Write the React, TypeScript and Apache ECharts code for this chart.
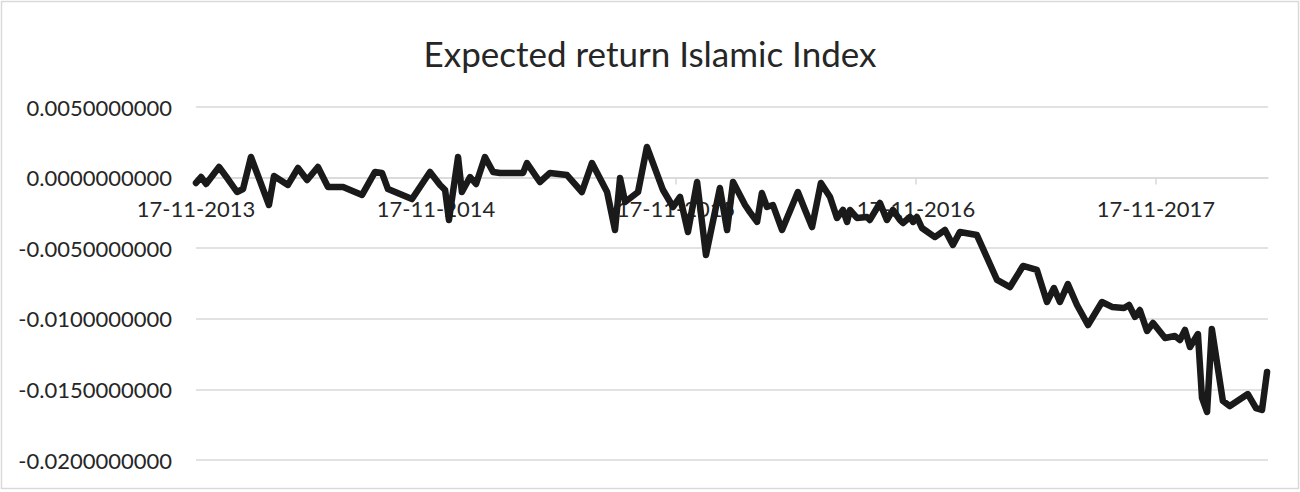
import React, { useEffect, useRef } from "react";
import * as echarts from "echarts";

const TITLE = "Expected return Islamic Index";

// x position in years since 17-11-2013
const yearsSinceStart: number[] = [
  0.0, 0.021, 0.042, 0.096, 0.133, 0.171, 0.196, 0.229, 0.304, 0.325,
  0.383, 0.425, 0.463, 0.508, 0.55, 0.613, 0.692, 0.746, 0.775, 0.8,
  0.9, 0.975, 1.017, 1.038, 1.054, 1.092, 1.108, 1.142, 1.167, 1.204,
  1.238, 1.267, 1.363, 1.379, 1.433, 1.475, 1.546, 1.608, 1.65, 1.713,
  1.746, 1.767, 1.788, 1.842, 1.879, 1.946, 1.988, 2.017, 2.05, 2.088,
  2.125, 2.183, 2.213, 2.238, 2.288, 2.308, 2.338, 2.358, 2.379, 2.404,
  2.442, 2.508, 2.538, 2.567, 2.604, 2.642, 2.671, 2.696, 2.713, 2.725,
  2.754, 2.796, 2.808, 2.85, 2.879, 2.904, 2.933, 2.946, 2.975, 2.988,
  3.004, 3.025, 3.079, 3.121, 3.154, 3.183, 3.254, 3.338, 3.392, 3.446,
  3.504, 3.546, 3.575, 3.6, 3.633, 3.671, 3.717, 3.775, 3.817, 3.867,
  3.888, 3.913, 3.933, 3.963, 3.988, 4.038, 4.079, 4.1, 4.121, 4.142,
  4.175, 4.192, 4.213, 4.233, 4.279, 4.308, 4.383, 4.417, 4.442, 4.463,
];

const expectedReturn: number[] = [
  -0.00038, 0.00004, -0.00045, 0.00075, -0.0001, -0.00102, -0.00081, 0.00146, -0.00194, 0.00011,
  -0.00052, 0.00068, -0.00017, 0.00075, -0.00067, -0.00067, -0.00123, 0.0004, 0.00033, -0.00081,
  -0.00152, 0.0004, -0.00052, -0.00088, -0.003, 0.00146, -0.00102, 0.00004, -0.00045, 0.00146,
  0.0004, 0.00033, 0.00033, 0.00103, -0.00031, 0.00033, 0.00018, -0.00102, 0.00103, -0.00102,
  -0.00371, -0.00003, -0.00173, -0.00102, 0.00217, -0.00088, -0.00208, -0.00137, -0.00385, -0.00031,
  -0.00548, -0.00074, -0.00371, -0.00031, -0.00194, -0.00244, -0.00314, -0.00109, -0.00208, -0.00194,
  -0.00371, -0.00102, -0.00229, -0.0035, -0.00038, -0.00137, -0.00286, -0.00229, -0.00314, -0.00229,
  -0.00286, -0.00279, -0.003, -0.0018, -0.003, -0.00229, -0.003, -0.00322, -0.00279, -0.00314,
  -0.00279, -0.00357, -0.00421, -0.00371, -0.00477, -0.00385, -0.00407, -0.00725, -0.00775, -0.00626,
  -0.00654, -0.00881, -0.00782, -0.00881, -0.00754, -0.00902, -0.01044, -0.00881, -0.00916, -0.00924,
  -0.00902, -0.00987, -0.00938, -0.01086, -0.0103, -0.01136, -0.01122, -0.0115, -0.01079, -0.012,
  -0.01108, -0.01561, -0.0166, -0.01072, -0.01582, -0.01618, -0.01533, -0.01632, -0.01646, -0.01377,
];

const xTickValues: number[] = [0, 1, 2, 3, 4];
const xTickLabels: string[] = ["17-11-2013", "17-11-2014", "17-11-2015", "17-11-2016", "17-11-2017"];

const Y_MIN = -0.02;
const Y_MAX = 0.005;

const FONT = "Lato, 'Open Sans', sans-serif";
const TEXT = "#262626";
const GRID = "#d9d9d9";

const GRID_TOP = 107;
const GRID_BOTTOM = 32;
const HEIGHT = 492;

export default function App() {
  const ref = useRef<HTMLDivElement>(null);

  useEffect(() => {
    document.body.style.margin = "0";
    if (!ref.current) return;
    const chart = echarts.init(ref.current, undefined, { renderer: "svg" });
    const data = yearsSinceStart.map((x, i) => [x, expectedReturn[i]]);
    // place the category axis where y = 0 (as Excel does)
    const plotH = HEIGHT - GRID_TOP - GRID_BOTTOM;
    const zeroFromBottom = ((0 - Y_MIN) / (Y_MAX - Y_MIN)) * plotH;
    chart.setOption({
      animation: false,
      backgroundColor: "#ffffff",
      textStyle: { fontFamily: FONT },
      title: {
        text: TITLE,
        left: "center",
        top: 30,
        textStyle: { fontFamily: FONT, fontSize: 35, fontWeight: "normal", color: TEXT },
      },
      graphic: [
        {
          type: "rect",
          shape: { x: 1.5, y: 1.5, width: 1297, height: 487 },
          style: { fill: "none", stroke: GRID, lineWidth: 1.5 },
          silent: true,
        },
      ],
      grid: { left: 196, right: 32, top: GRID_TOP, bottom: GRID_BOTTOM, containLabel: false },
      xAxis: {
        type: "value",
        min: 0,
        max: 4.467,
        interval: 1,
        position: "bottom",
        offset: -zeroFromBottom,
        splitLine: { show: false },
        axisLine: { show: true, onZero: false, lineStyle: { color: GRID, width: 1.5 } },
        axisTick: { show: true, length: 7, customValues: xTickValues, lineStyle: { color: GRID, width: 1.5 } },
        axisLabel: {
          customValues: xTickValues,
          margin: 20,
          fontSize: 22,
          fontFamily: FONT,
          color: TEXT,
          formatter: (v: number) => {
            const i = Math.round(v);
            return Math.abs(v - i) < 1e-6 && xTickLabels[i] ? xTickLabels[i] : "";
          },
        },
      },
      yAxis: {
        type: "value",
        min: Y_MIN,
        max: Y_MAX,
        interval: 0.005,
        axisLine: { show: false, onZero: false },
        axisTick: { show: false },
        splitLine: { show: true, lineStyle: { color: GRID, width: 1.5 } },
        axisLabel: {
          margin: 24,
          fontSize: 22,
          fontFamily: FONT,
          color: TEXT,
          formatter: (v: number) => v.toFixed(10),
        },
      },
      series: [
        {
          type: "line",
          data,
          showSymbol: false,
          symbol: "none",
          z: 3,
          lineStyle: { color: "#1a1a1a", width: 6.5, join: "round", cap: "round" },
        },
      ],
    });
    return () => chart.dispose();
  }, []);

  return <div ref={ref} style={{ width: 1300, height: 492 }} />;
}
